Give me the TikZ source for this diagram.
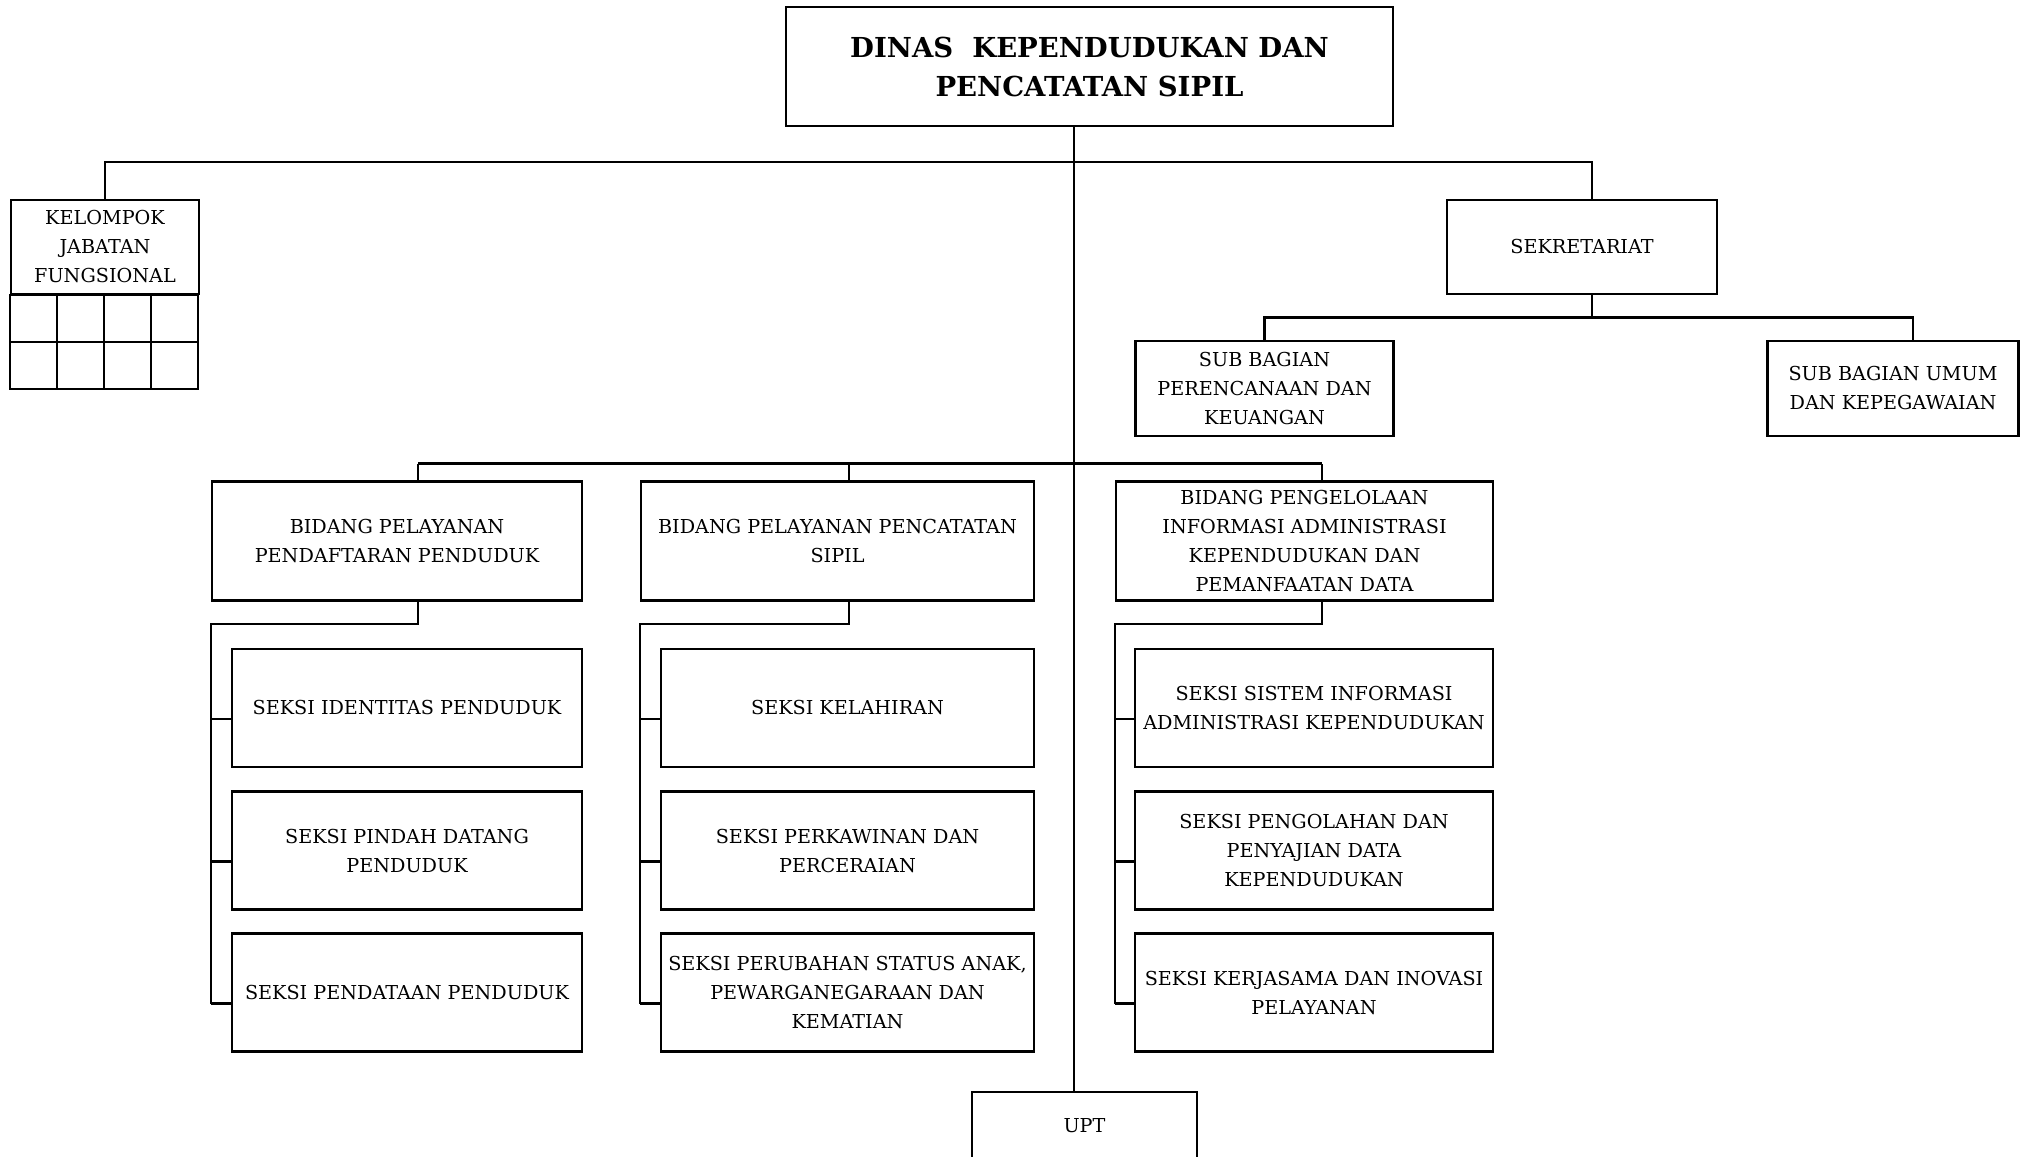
\documentclass[tikz,border=0pt]{standalone}
\usepackage{fontspec}
\setmainfont{DejaVu Serif}
\begin{document}
\begin{tikzpicture}[
            x=1pt, y=-1pt, line width=2.2pt,
        box/.style={draw,rectangle,inner sep=2pt,align=center,font=\fontsize{19.2}{29}\selectfont},
        head box/.style={box,minimum width=607pt,minimum height=119pt,font=\fontsize{27.5}{39}\selectfont\bfseries},
        bidang/.style={box,minimum height=119pt},
        seksi/.style={box,minimum height=118pt}
                                ]
          \useasboundingbox (0,0) rectangle (2028,1156);
          \node[head box] (dinas) at (1089.5,66.5) {DINAS\ \ KEPENDUDUKAN DAN\\PENCATATAN SIPIL};
          \node[box,minimum width=188pt,minimum height=94pt] (kjf) at (105,247) {KELOMPOK\\JABATAN\\FUNGSIONAL};
          \node[box,minimum width=270pt,minimum height=94pt] (sekre) at (1582,247) {SEKRETARIAT};
          \node[box,minimum width=258pt,minimum height=95pt] (subren) at (1264.5,388.5) {SUB BAGIAN\\PERENCANAAN DAN\\KEUANGAN};
          \node[box,minimum width=251pt,minimum height=95pt] (subum) at (1893,388.5) {SUB BAGIAN UMUM\\DAN KEPEGAWAIAN};

          \node[bidang,minimum width=370pt] (bid1) at (397,541) {BIDANG PELAYANAN\\PENDAFTARAN PENDUDUK};
          \node[bidang,minimum width=393pt] (bid2) at (837.5,541) {BIDANG PELAYANAN PENCATATAN\\SIPIL};
          \node[bidang,minimum width=377pt] (bid3) at (1304.5,541) {BIDANG PENGELOLAAN\\INFORMASI ADMINISTRASI\\KEPENDUDUKAN DAN\\PEMANFAATAN DATA};

          \node[seksi,minimum width=350pt] (s11) at (407,708) {SEKSI IDENTITAS PENDUDUK};
          \node[seksi,minimum width=350pt] (s12) at (407,850.5) {SEKSI PINDAH DATANG\\PENDUDUK};
          \node[seksi,minimum width=350pt] (s13) at (407,992.5) {SEKSI PENDATAAN PENDUDUK};
          \node[seksi,minimum width=373pt] (s21) at (847.5,708) {SEKSI KELAHIRAN};
          \node[seksi,minimum width=373pt] (s22) at (847.5,850.5) {SEKSI PERKAWINAN DAN\\PERCERAIAN};
          \node[seksi,minimum width=373pt] (s23) at (847.5,992.5) {SEKSI PERUBAHAN STATUS ANAK,\\PEWARGANEGARAAN DAN\\KEMATIAN};
          \node[seksi,minimum width=358pt] (s31) at (1314,708) {SEKSI SISTEM INFORMASI\\ADMINISTRASI KEPENDUDUKAN};
          \node[seksi,minimum width=358pt] (s32) at (1314,850.5) {SEKSI PENGOLAHAN DAN\\PENYAJIAN DATA\\KEPENDUDUKAN};
          \node[seksi,minimum width=358pt] (s33) at (1314,992.5) {SEKSI KERJASAMA DAN INOVASI\\PELAYANAN};

          \node[box,minimum width=225pt,minimum height=68pt] (upt) at (1084.5,1126) {UPT};

          % kotak jabatan fungsional
          \draw (kjf.south west) rectangle ++(188,94);
          \draw ([yshift=-47pt]kjf.south west) -- ++(188,0);
          \foreach \i in {1,2,3}
            \draw ([xshift=47*\i pt]kjf.south west) -- ++(0,94);

          \coordinate (trunk) at (1074,162);
          \coordinate (sektop) at (1592,162);
          \coordinate (sekbot) at (1592,317.5);
          \coordinate (subumup) at (1913,317.5);

          \draw (dinas.south -| trunk) -- (upt.north -| trunk);
          \draw (kjf.north) |- (sektop) -- (sekre.north -| sektop);
          \draw (sekre.south -| sekbot) -- (sekbot);
          \draw (subren.north) |- (subumup) -- (subum.north -| subumup);

          \foreach \c/\cx in {1/418,2/849,3/1322} {
            \coordinate (up\c) at (\cx,463.5);
            \coordinate (dn\c) at (\cx,624);
            \foreach \r in {1,2,3}
              \coordinate (t\c\r) at ([yshift=-11pt]s\c\r.west);
            \draw (bid\c.north -| up\c) -- (up\c);
            \draw (bid\c.south -| dn\c) -- (dn\c) -| (t\c3 -| bid\c.west);
            \foreach \r in {1,2,3}
              \draw (t\c\r -| bid\c.west) -- (t\c\r);
          }
          \draw (up1) -- (up3);
    \end{tikzpicture}
\end{document}
